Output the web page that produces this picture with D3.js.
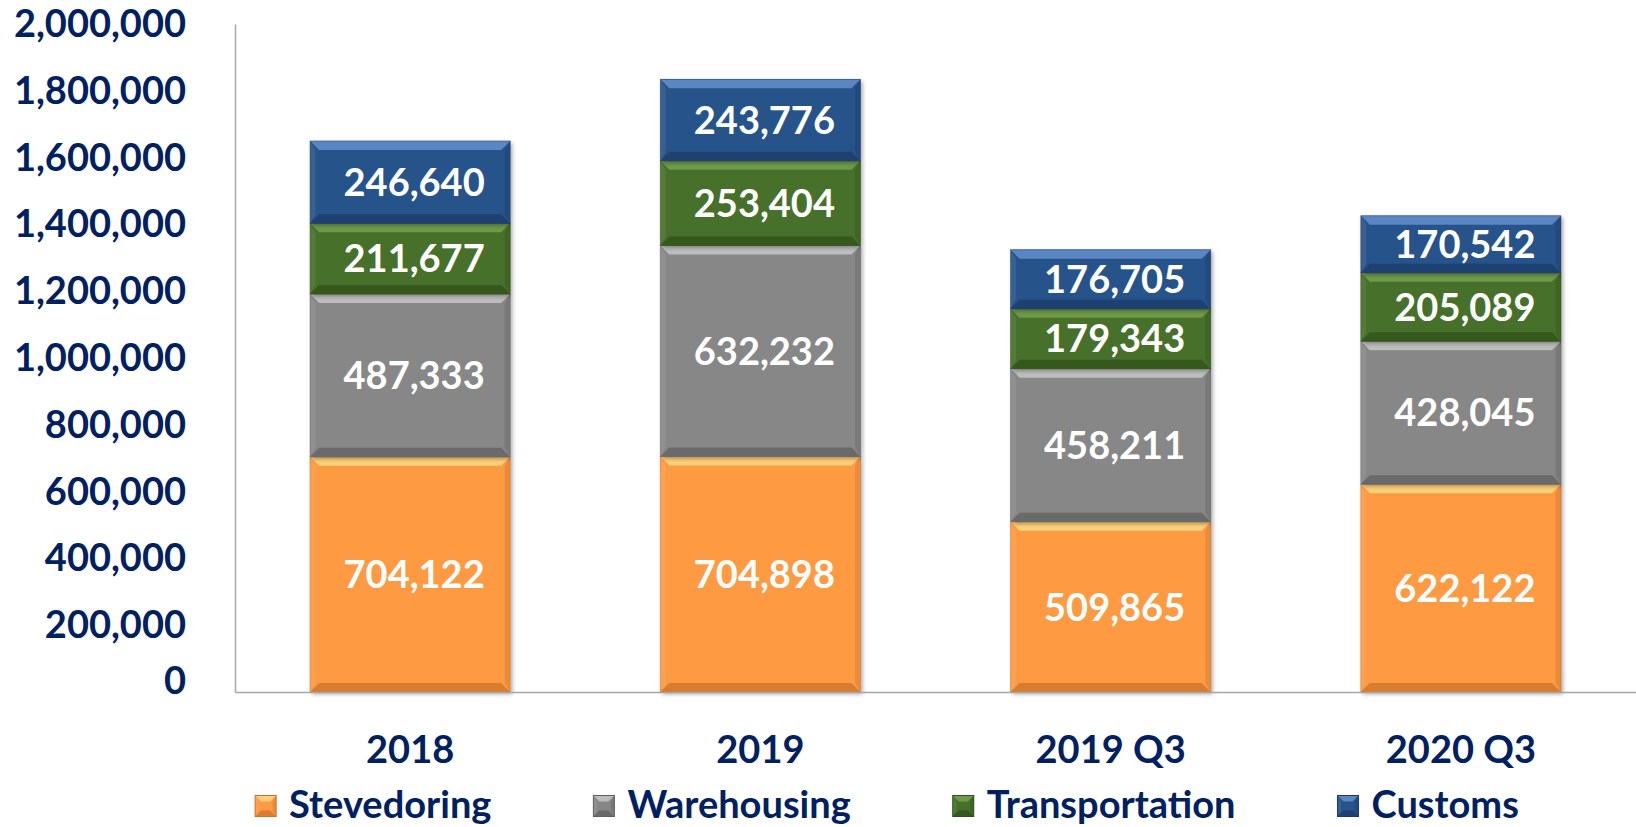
<!DOCTYPE html>
<html>
<head>
<meta charset="utf-8">
<script src="https://cdn.jsdelivr.net/npm/d3@7"></script>
<style>
  html, body { margin: 0; padding: 0; background: #ffffff; }
  svg { display: block; }
  text { font-family: Lato, "Open Sans", "Liberation Sans", sans-serif; font-weight: 700; }
</style>
</head>
<body>
<svg id="chart" width="1636" height="827"></svg>
<script>
// ---- data ----
const categories = ["2018", "2019", "2019 Q3", "2020 Q3"];
const seriesNames = ["Stevedoring", "Warehousing", "Transportation", "Customs"];
const stevedoring = [704122, 704898, 509865, 622122];
const warehousing = [487333, 632232, 458211, 428045];
const transportation = [211677, 253404, 179343, 205089];
const customs = [246640, 243776, 176705, 170542];
const yTicks = [0, 200000, 400000, 600000, 800000, 1000000, 1200000, 1400000, 1600000, 1800000, 2000000];

// ---- styles ----
const fills = { Stevedoring: "#FD9A43", Warehousing: "#878787", Transportation: "#46702A", Customs: "#28528A" };
const lights = { Stevedoring: "#FFD07A", Warehousing: "#BDBDBD", Transportation: "#6E9A4A", Customs: "#5A86C4" };
const darks = { Stevedoring: "#C8702A", Warehousing: "#5E5E5E", Transportation: "#2E4F18", Customs: "#1A3A66" };
const navy = "#002060";

const rows = categories.map((c, i) => ({
  cat: c,
  Stevedoring: stevedoring[i],
  Warehousing: warehousing[i],
  Transportation: transportation[i],
  Customs: customs[i]
}));

const svg = d3.select("#chart");
const plot = { left: 235, right: 1636, top: 24, bottom: 692 };

const x = d3.scaleBand().domain(categories).range([plot.left, plot.right])
  .paddingInner(0.4286).paddingOuter(0.2143);
const y = d3.scaleLinear().domain([0, 2000000]).range([plot.bottom, plot.top]);

const defs = svg.append("defs");
const f = defs.append("filter").attr("id", "shadow").attr("x", "-10%").attr("y", "-10%").attr("width", "130%").attr("height", "130%");
f.append("feDropShadow").attr("dx", 2).attr("dy", 2).attr("stdDeviation", 2).attr("flood-color", "#000").attr("flood-opacity", 0.35);

// axes
const yAxis = d3.axisLeft(y).tickValues(yTicks).tickSize(0).tickPadding(49).tickFormat(d3.format(","));
const gy = svg.append("g").attr("transform", `translate(${plot.left},0)`).call(yAxis);
gy.select(".domain").attr("stroke", "#A6A6A6").attr("stroke-width", 1.5);
gy.selectAll(".tick text")
  .attr("fill", navy).attr("font-size", 38).attr("font-weight", 700)
  .attr("font-family", "Lato, 'Open Sans', sans-serif")
  .attr("dy", d => d === 0 ? "0.05em" : "0.33em");

const stack = d3.stack().keys(seriesNames);
const layers = stack(rows);

function bevel(g, x0, y0, x1, y1, b, light, dark) {
  const pts = a => a.map(p => p.join(",")).join(" ");
  g.append("polygon").attr("points", pts([[x0, y0], [x1, y0], [x1 - b, y0 + b], [x0 + b, y0 + b]])).attr("fill", light);
  g.append("polygon").attr("points", pts([[x0, y1], [x1, y1], [x1 - b, y1 - b], [x0 + b, y1 - b]])).attr("fill", dark).attr("opacity", 0.7);
  g.append("polygon").attr("points", pts([[x0, y0], [x0 + b * 0.6, y0 + b], [x0 + b * 0.6, y1 - b], [x0, y1]])).attr("fill", "#fff").attr("opacity", 0.08);
  g.append("polygon").attr("points", pts([[x1, y0], [x1 - b * 0.6, y0 + b], [x1 - b * 0.6, y1 - b], [x1, y1]])).attr("fill", dark).attr("opacity", 0.35);
}

const barsG = svg.append("g");
layers.forEach(layer => {
  const key = layer.key;
  layer.forEach((d, i) => {
    const cat = categories[i];
    const x0 = x(cat), x1 = x(cat) + x.bandwidth();
    const yTop = y(d[1]), yBot = y(d[0]);
    const g = barsG.append("g");
    g.append("rect").attr("x", x0).attr("y", yTop).attr("width", x1 - x0).attr("height", yBot - yTop)
      .attr("fill", fills[key]).attr("filter", "url(#shadow)");
    bevel(g, x0, yTop, x1, yBot, Math.min(9, (yBot - yTop) / 3), lights[key], darks[key]);
    g.append("rect").attr("x", x0).attr("y", yTop).attr("width", x1 - x0).attr("height", yBot - yTop)
      .attr("fill", "none").attr("stroke", darks[key]).attr("stroke-width", 0.8).attr("stroke-opacity", 0.6);
  });
});

// value labels
layers.forEach(layer => {
  layer.forEach((d, i) => {
    const cat = categories[i];
    svg.append("text")
      .attr("x", x(cat) + x.bandwidth() / 2 + 4)
      .attr("y", (y(d[0]) + y(d[1])) / 2)
      .attr("dy", "0.36em")
      .attr("text-anchor", "middle")
      .attr("fill", "#ffffff")
      .attr("font-size", 38)
      .text(d3.format(",")(d.data[layer.key]));
  });
});

// x axis line
const xAxis = d3.axisBottom(x).tickSize(0).tickPadding(0);
const gx = svg.append("g").attr("transform", `translate(0,${plot.bottom})`).call(xAxis);
gx.select(".domain").attr("stroke", "#A6A6A6").attr("stroke-width", 1.5);
gx.selectAll(".tick text")
  .attr("fill", navy).attr("font-size", 38).attr("font-weight", 700)
  .attr("font-family", "Lato, 'Open Sans', sans-serif")
  .attr("y", 57).attr("dy", "0.36em");

// legend
const legendY = 804;
const sq = 21, gapText = 13, gapItem = 102;
const legend = svg.append("g");
let cursor = 0;
const items = [];
seriesNames.forEach(name => {
  const g = legend.append("g");
  const t = g.append("text").attr("x", sq + gapText).attr("y", legendY).attr("dy", "0.36em")
    .attr("fill", navy).attr("font-size", 38).text(name);
  const w = t.node().getComputedTextLength();
  g.append("rect").attr("x", 0).attr("y", legendY - sq / 2 + 2).attr("width", sq).attr("height", sq).attr("fill", fills[name]);
  bevel(g, 0, legendY - sq / 2 + 2, sq, legendY + sq / 2 + 2, 6, lights[name], darks[name]);
  g.append("rect").attr("x", 0).attr("y", legendY - sq / 2 + 2).attr("width", sq).attr("height", sq)
    .attr("fill", "none").attr("stroke", darks[name]).attr("stroke-width", 1);
  items.push({ g, start: cursor });
  cursor += sq + gapText + w + gapItem;
});
const totalW = cursor - gapItem;
const legendCenter = 887;
const startX = legendCenter - totalW / 2;
items.forEach(it => it.g.attr("transform", `translate(${startX + it.start},0)`));
</script>
</body>
</html>
